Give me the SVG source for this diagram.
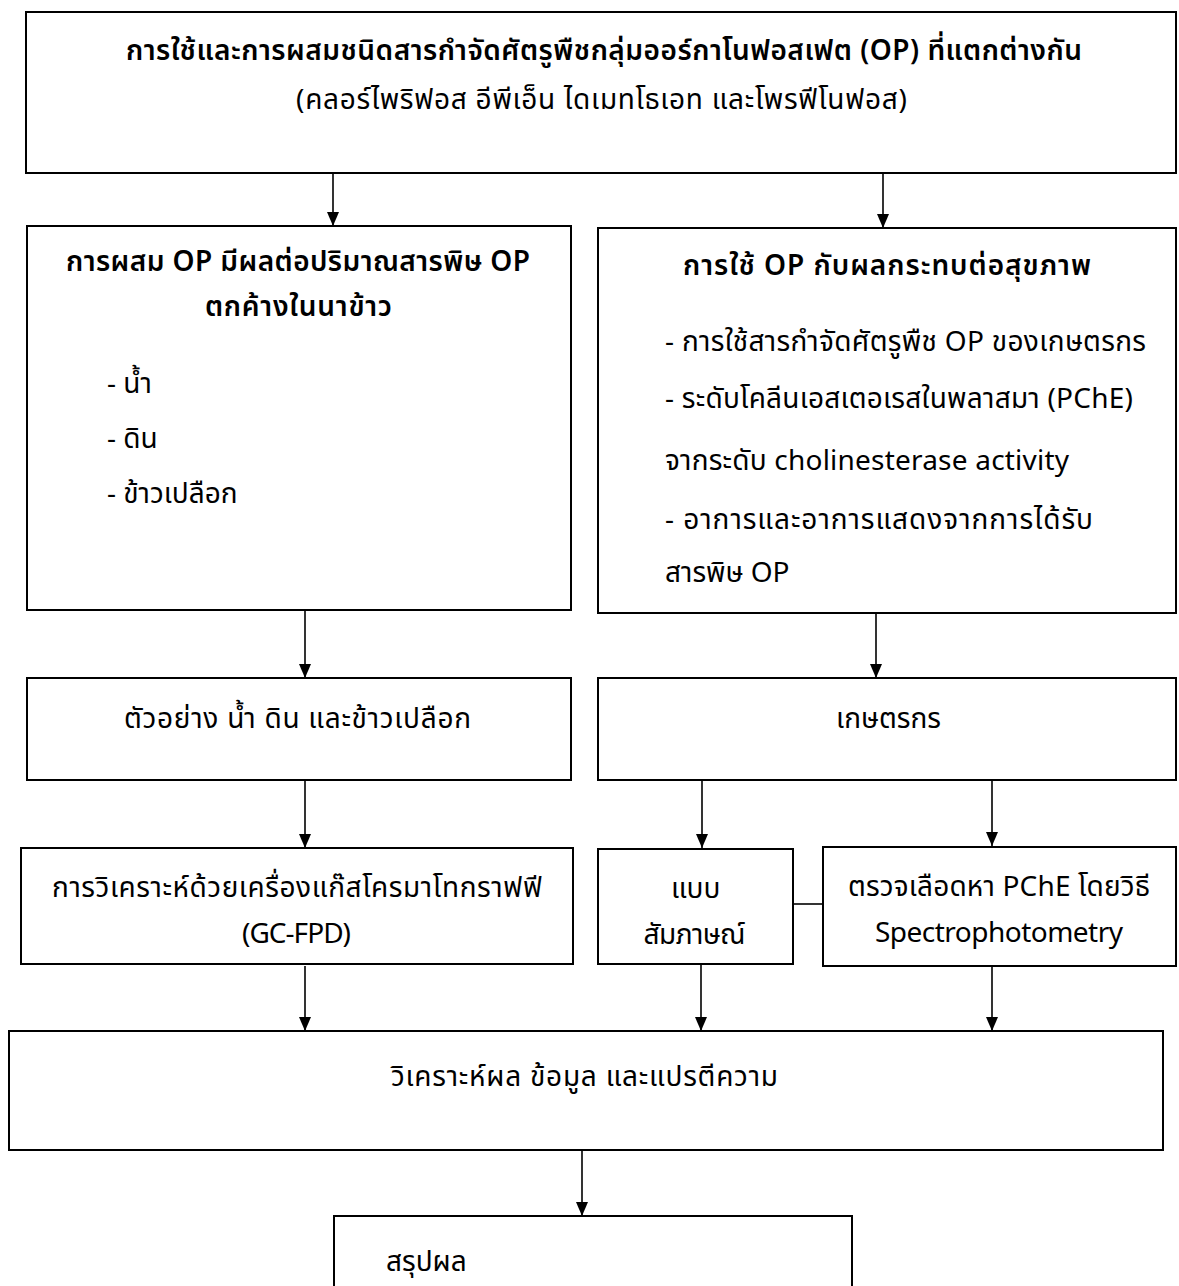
<svg xmlns="http://www.w3.org/2000/svg" width="1179" height="1286" viewBox="0 0 1179 1286">
<defs>
<marker id="ah" markerWidth="14" markerHeight="12" refX="14" refY="6" orient="auto" markerUnits="userSpaceOnUse" viewBox="0 0 14 12">
<path d="M0,0 L14,6 L0,12 Z" fill="#000"/>
</marker>
<style>
.box{fill:#fff;stroke:#000;stroke-width:2}
.t{font-family:"Noto Sans","Noto Sans Thai","Noto Sans CJK SC",sans-serif;font-size:28px;fill:#000}
.b{font-weight:600}
.c{stroke:#000;stroke-width:1.6;fill:none}
.ca{stroke:#000;stroke-width:1.6;fill:none;marker-end:url(#ah)}
</style>
</defs>
<rect width="1179" height="1286" fill="#fff"/>
<g id="connectors">
<line class="ca" x1="333" y1="173" x2="333" y2="226"/>
<line class="ca" x1="883" y1="173" x2="883" y2="228"/>
<line class="ca" x1="305" y1="610" x2="305" y2="678"/>
<line class="ca" x1="876" y1="613" x2="876" y2="678"/>
<line class="ca" x1="305" y1="780" x2="305" y2="848"/>
<line class="ca" x1="702" y1="780" x2="702" y2="848"/>
<line class="ca" x1="992" y1="780" x2="992" y2="846"/>
<line class="c" x1="793" y1="904" x2="823" y2="904"/>
<line class="ca" x1="305" y1="966" x2="305" y2="1031"/>
<line class="ca" x1="701" y1="964" x2="701" y2="1031"/>
<line class="ca" x1="992" y1="966" x2="992" y2="1031"/>
<line class="ca" x1="582" y1="1150" x2="582" y2="1216"/>
</g>
<g id="n-top">
<rect class="box" x="26" y="12" width="1150" height="161"/>
<text class="t b" x="126" y="60" textLength="956">การใช้และการผสมชนิดสารกำจัดศัตรูพืชกลุ่มออร์กาโนฟอสเฟต (OP) ที่แตกต่างกัน</text>
<text class="t" x="296" y="109" textLength="611">(คลอร์ไพริฟอส อีพีเอ็น ไดเมทโธเอท และโพรฟีโนฟอส)</text>
</g>
<g id="n-mix">
<rect class="box" x="27" y="226" width="544" height="384"/>
<text class="t b" x="66" y="271" textLength="464">การผสม OP มีผลต่อปริมาณสารพิษ OP</text>
<text class="t b" x="205" y="316" textLength="187">ตกค้างในนาข้าว</text>
<text class="t" x="107" y="393">- น้ำ</text>
<text class="t" x="107" y="448">- ดิน</text>
<text class="t" x="107" y="503">- ข้าวเปลือก</text>
</g>
<g id="n-health">
<rect class="box" x="598" y="228" width="578" height="385"/>
<text class="t b" x="683" y="275" textLength="408">การใช้ OP กับผลกระทบต่อสุขภาพ</text>
<text class="t" x="665" y="351" textLength="481">- การใช้สารกำจัดศัตรูพืช OP ของเกษตรกร</text>
<text class="t" x="665" y="408" textLength="468">- ระดับโคลีนเอสเตอเรสในพลาสมา (PChE)</text>
<text class="t" x="665" y="470" textLength="404">จากระดับ cholinesterase activity</text>
<text class="t" x="665" y="529" textLength="428">- อาการและอาการแสดงจากการได้รับ</text>
<text class="t" x="665" y="582">สารพิษ OP</text>
</g>
<g id="n-sample">
<rect class="box" x="27" y="678" width="544" height="102"/>
<text class="t" x="124" y="728" textLength="347">ตัวอย่าง น้ำ ดิน และข้าวเปลือก</text>
</g>
<g id="n-farmer">
<rect class="box" x="598" y="678" width="578" height="102"/>
<text class="t" x="836" y="728">เกษตรกร</text>
</g>
<g id="n-gc">
<rect class="box" x="21" y="848" width="552" height="116"/>
<text class="t" x="52" y="897" textLength="490">การวิเคราะห์ด้วยเครื่องแก๊สโครมาโทกราฟฟี</text>
<text class="t" x="242" y="943" textLength="109">(GC-FPD)</text>
</g>
<g id="n-interview">
<rect class="box" x="598" y="849" width="195" height="115"/>
<text class="t" x="671" y="898">แบบ</text>
<text class="t" x="643" y="944" textLength="102">สัมภาษณ์</text>
</g>
<g id="n-blood">
<rect class="box" x="823" y="847" width="353" height="119"/>
<text class="t" x="848" y="896" textLength="302">ตรวจเลือดหา PChE โดยวิธี</text>
<text class="t" x="875" y="942" textLength="248">Spectrophotometry</text>
</g>
<g id="n-analysis">
<rect class="box" x="9" y="1031" width="1154" height="119"/>
<text class="t" x="391" y="1086" textLength="387">วิเคราะห์ผล ข้อมูล และแปรตีความ</text>
</g>
<g id="n-conclusion">
<rect class="box" x="334" y="1216" width="518" height="90"/>
<text class="t" x="386" y="1271">สรุปผล</text>
</g>
</svg>
